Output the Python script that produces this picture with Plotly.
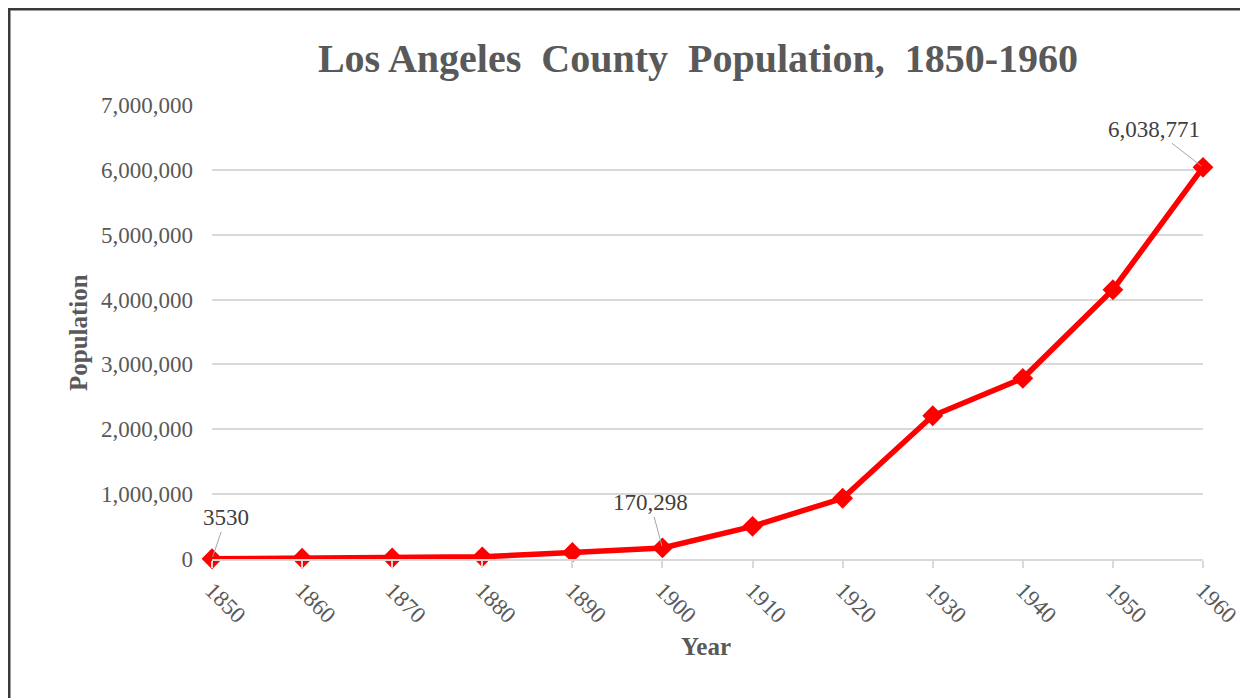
import plotly.graph_objects as go

years = [1850, 1860, 1870, 1880, 1890, 1900, 1910, 1920, 1930, 1940, 1950, 1960]
population = [3530, 11333, 15309, 33381, 101454, 170298, 504131, 936455,
              2208492, 2785643, 4151687, 6038771]
y_ticks = [0, 1000000, 2000000, 3000000, 4000000, 5000000, 6000000, 7000000]
y_tick_text = ["0", "1,000,000", "2,000,000", "3,000,000", "4,000,000",
               "5,000,000", "6,000,000", "7,000,000"]
labelled = {1850: "3530", 1900: "170,298", 1960: "6,038,771"}
label_offsets = {1850: (14, -41), 1900: (-12, -45), 1960: (-49, -38)}

W, H = 1248, 698
OFF = 8  # page body margin: screen px = figure px + OFF
L, R, T, B = 212 - OFF, 1203 - OFF, 105 - OFF, 559 - OFF
SERIF = "Liberation Serif"
GRAY = "#595959"


def px_x(sx):
    return (sx - OFF - L) / (R - L)


def px_y(sy):
    return (B - (sy - OFF)) / (B - T)


fig = go.Figure()
fig.add_trace(go.Scatter(
    x=years, y=population, mode="lines+markers",
    line=dict(color="#ff0000", width=5.5),
    marker=dict(symbol="diamond", size=16, color="#ff0000"),
    cliponaxis=False, showlegend=False,
))

annotations = []
for yr, txt in labelled.items():
    ax, ay = label_offsets[yr]
    annotations.append(dict(
        x=yr, y=population[years.index(yr)], xref="x", yref="y",
        text=txt, showarrow=True, arrowhead=0, arrowwidth=1,
        arrowcolor="#a6a6a6", ax=ax, ay=ay, standoff=2,
        font=dict(family=SERIF, size=23, color="#404040"),
    ))

annotations.append(dict(
    text="Population", xref="paper", yref="paper",
    x=px_x(78), y=px_y(333), textangle=-90, showarrow=False,
    xanchor="center", yanchor="middle",
    font=dict(family=SERIF, size=25, color=GRAY, weight="bold"),
))
annotations.append(dict(
    text="Year", xref="paper", yref="paper",
    x=px_x(706), y=px_y(646), showarrow=False,
    xanchor="center", yanchor="middle",
    font=dict(family=SERIF, size=25, color=GRAY, weight="bold"),
))
# caption line above the chart, cropped off at the top edge as in the reference
annotations.append(dict(
    text="Figure 1: Los Angeles County Population, 1850-1960",
    xref="paper", yref="paper", x=px_x(1), y=px_y(6.5),
    showarrow=False, xanchor="left", yanchor="bottom",
    font=dict(family="Liberation Sans", size=16,
              color="#000000", weight="bold"),
))

fig.update_layout(
    width=W, height=H,
    margin=dict(l=L, r=W - R, t=T, b=H - B),
    paper_bgcolor="white", plot_bgcolor="white",
    title=dict(
        text="<b>Los Angeles  County  Population,  1850-1960</b>",
        x=(698 - OFF) / W, xanchor="center", xref="container",
        y=1 - (58 - OFF) / H, yanchor="middle", yref="container",
        font=dict(family=SERIF, size=40, color=GRAY),
    ),
    xaxis=dict(
        range=[1850, 1960], tickvals=years, ticktext=[str(y) for y in years],
        tickangle=45, showgrid=False, zeroline=False,
        showline=True, linecolor="#d9d9d9", linewidth=1.5,
        ticks="outside", ticklen=7, tickcolor="#d9d9d9", tickwidth=1.5,
        tickfont=dict(family=SERIF, size=23, color=GRAY),
    ),
    yaxis=dict(
        range=[0, 7000000], tickvals=y_ticks, ticktext=y_tick_text,
        showgrid=True, gridcolor="#d9d9d9", gridwidth=1.5,
        zeroline=False, showline=False, ticks="",
        ticklabelstandoff=18,
        tickfont=dict(family=SERIF, size=23, color=GRAY),
    ),
    annotations=annotations,
    shapes=[dict(
        type="rect", xref="paper", yref="paper",
        x0=px_x(9), y0=px_y(740), x1=px_x(1290), y1=px_y(9),
        line=dict(color="#3a3a3a", width=3), fillcolor="rgba(0,0,0,0)",
        layer="above",
    )],
)

fig.write_html("out.html")
